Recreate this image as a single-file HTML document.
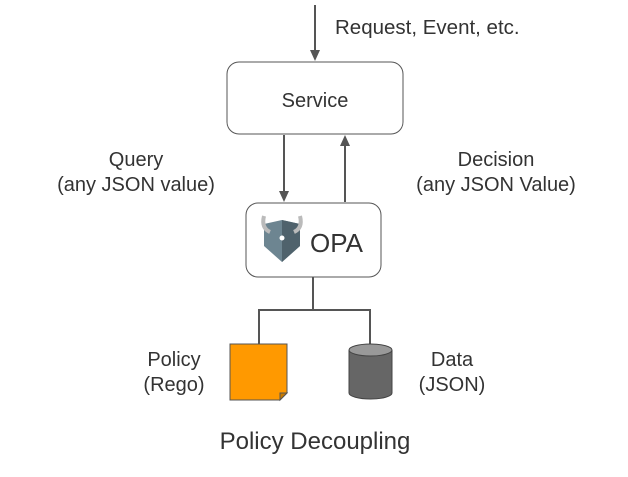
<!DOCTYPE html>
<html><head><style>
body{margin:0;width:628px;height:472px;background:#fff;overflow:hidden}
text{font-family:"Liberation Sans",Arial,sans-serif;fill:#333}
</style></head><body>
<svg width="628" height="472" viewBox="0 0 628 472">
<g stroke="#555" stroke-width="2" fill="none">
<line x1="315" y1="5" x2="315" y2="52"/>
<line x1="284" y1="135" x2="284" y2="193"/>
<line x1="345" y1="202" x2="345" y2="144"/>
<path d="M313,277 V310 M259,346 V310 H370 V346"/>
</g>
<path d="M310,50 H320 L315,61 Z" fill="#555"/>
<path d="M279,191 H289 L284,202 Z" fill="#555"/>
<path d="M340,146 H350 L345,135 Z" fill="#555"/>
<rect x="227" y="62" width="176" height="72" rx="12" fill="#fff" stroke="#555"/>
<rect x="246" y="203" width="135" height="74" rx="12" fill="#fff" stroke="#555"/>
<text x="315" y="107" font-size="20" text-anchor="middle">Service</text>
<text x="335" y="34" font-size="20.5">Request, Event, etc.</text>
<text x="136" y="166" font-size="20" text-anchor="middle">Query</text>
<text x="136" y="191" font-size="20" text-anchor="middle">(any JSON value)</text>
<text x="496" y="166" font-size="20" text-anchor="middle">Decision</text>
<text x="496" y="191" font-size="20" text-anchor="middle">(any JSON Value)</text>
<path d="M264,224 L282,220 L300,224 L300,246 L282,262 L264,246 Z" fill="#6d8591"/>
<path d="M282,220 L300,224 L300,246 L282,262 Z" fill="#4f626c"/>
<path d="M264,216 Q261,228 270,232 M300,216 Q303,228 294,232" stroke="#bbb" stroke-width="4" fill="none"/>
<circle cx="282" cy="238" r="2.5" fill="#fff"/>
<text x="310" y="252" font-size="26">OPA</text>
<path d="M230,344 H287 V393 L280,400 H230 Z" fill="#f90" stroke="#555"/>
<path d="M287,393 L280,393 L280,400 Z" fill="#c87a00" stroke="#555"/>
<path d="M349,350 V393 A21.5,6 0 0 0 392,393 V350" fill="#666" stroke="#444"/>
<ellipse cx="370.5" cy="350" rx="21.5" ry="6" fill="#999" stroke="#444"/>
<text x="174" y="366" font-size="20" text-anchor="middle">Policy</text>
<text x="174" y="391" font-size="20" text-anchor="middle">(Rego)</text>
<text x="452" y="366" font-size="20" text-anchor="middle">Data</text>
<text x="452" y="391" font-size="20" text-anchor="middle">(JSON)</text>
<text x="315" y="449" font-size="24" text-anchor="middle">Policy Decoupling</text>
</svg>
</body></html>
